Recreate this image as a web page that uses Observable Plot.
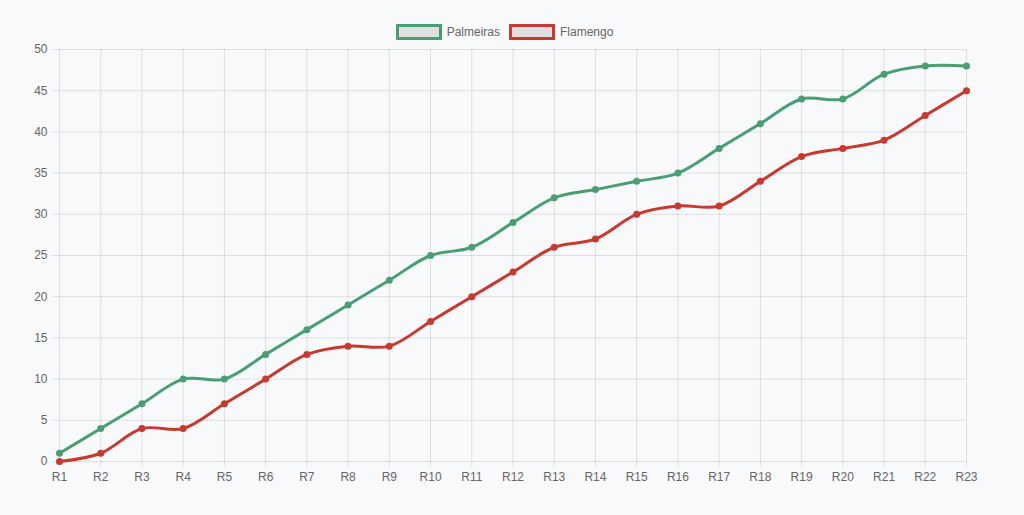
<!DOCTYPE html>
<html><head><meta charset="utf-8">
<script src="https://cdn.jsdelivr.net/npm/d3@7"></script>
<script src="https://cdn.jsdelivr.net/npm/@observablehq/plot@0.6"></script>
<style>
body{margin:0;background:#f8f9fa;font-family:"Helvetica Neue",Helvetica,Arial,"Liberation Sans",sans-serif;}
#legend{height:40px;display:flex;justify-content:center;align-items:flex-end;gap:9px;font-size:12px;color:#666;padding-right:15px;box-sizing:border-box;}
.item{display:flex;align-items:center;gap:5px;}
.box{width:40px;height:10px;background:#e0e0e0;border:3px solid;}
</style></head>
<body>
<div id="legend"></div>
<div id="chart"></div>
<script>
const rounds = ["R1","R2","R3","R4","R5","R6","R7","R8","R9","R10","R11","R12","R13","R14","R15","R16","R17","R18","R19","R20","R21","R22","R23"];
const palmeiras = [1,4,7,10,10,13,16,19,22,25,26,29,32,33,34,35,38,41,44,44,47,48,48];
const flamengo = [0,1,4,4,7,10,13,14,14,17,20,23,26,27,30,31,31,34,37,38,39,42,45];
const seriesNames = ["Palmeiras","Flamengo"];
const colors = ["#4a9e74","#c8392f"];
const yTicks = [0,5,10,15,20,25,30,35,40,45,50];

const data = [];
[palmeiras, flamengo].forEach((vals, s) => vals.forEach((v, i) => data.push({team: seriesNames[s], round: rounds[i], pts: v})));

const legend = document.getElementById("legend");
seriesNames.forEach((n, i) => {
  const it = document.createElement("div"); it.className = "item";
  const b = document.createElement("div"); b.className = "box"; b.style.borderColor = colors[i];
  const t = document.createElement("span"); t.textContent = n;
  it.appendChild(b); it.appendChild(t); legend.appendChild(it);
});

const chart = Plot.plot({
  width: 1024, height: 475,
  marginTop: 9, marginBottom: 54, marginLeft: 59, marginRight: 58,
  style: {background: "transparent", fontSize: "12px", fontFamily: "'Helvetica Neue',Helvetica,Arial,'Liberation Sans',sans-serif", color: "#666"},
  x: {type: "point", domain: rounds, padding: 0, round: false, label: null},
  y: {domain: [0, 50], label: null},
  color: {domain: seriesNames, range: colors},
  marks: [
    Plot.gridX(rounds, {stroke: "#000", strokeOpacity: 0.1, y1: 0, y2: 50}),
    Plot.gridY(yTicks, {stroke: "#000", strokeOpacity: 0.1}),
    Plot.axisX({tickSize: 6, tickPadding: 5, stroke: "#000", strokeOpacity: 0.1, fill: "#666"}),
    Plot.axisY(yTicks, {tickSize: 7, tickPadding: 5, stroke: "#000", strokeOpacity: 0.1, fill: "#666"}),
    Plot.line(data, {x: "round", y: "pts", z: "team", stroke: "team", strokeWidth: 3, curve: "catmull-rom"}),
    Plot.dot(data, {x: "round", y: "pts", fill: "team", r: 3.5})
  ]
});
document.getElementById("chart").appendChild(chart);
</script>
</body></html>
